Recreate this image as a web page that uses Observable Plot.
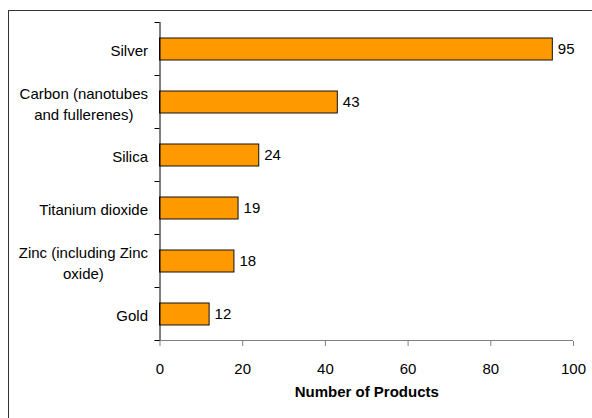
<!DOCTYPE html>
<html>
<head>
<meta charset="utf-8">
<script src="https://cdn.jsdelivr.net/npm/d3@7"></script>
<script src="https://cdn.jsdelivr.net/npm/@observablehq/plot@0.6"></script>
<style>
  html, body { margin: 0; padding: 0; background: #fff; overflow: hidden; }
  #wrap { position: relative; width: 592px; height: 418px; }
  #border { position: absolute; left: 7.5px; top: 9.5px; width: 700px; height: 600px; border: 1px solid #333; pointer-events: none; }
</style>
</head>
<body>
<div id="wrap"><div id="border"></div></div>
<script>
const categories = ["Silver", "Carbon (nanotubes\nand fullerenes)", "Silica", "Titanium dioxide", "Zinc (including Zinc\noxide)", "Gold"];
const values = [95, 43, 24, 19, 18, 12];
const xTicks = [0, 20, 40, 60, 80, 100];
const xLabel = "Number of Products";

const data = categories.map((c, i) => ({name: c, value: values[i]}));

function edgeTicks(index, scales) {
  const x = scales.x, y = scales.y;
  const ys = scales.scales && scales.scales.y;
  const bw = typeof y.bandwidth === "function" ? y.bandwidth() : ys.bandwidth;
  const step = typeof y.step === "function" ? y.step() : ys.step;
  const ns = "http://www.w3.org/2000/svg";
  const g = document.createElementNS(ns, "g");
  const x0 = x(xTicks[0]), x1 = x(xTicks[xTicks.length - 1]);
  const edges = categories.map(c => y(c) + bw / 2 - step / 2);
  edges.push(y(categories[categories.length - 1]) + bw / 2 + step / 2);
  const bottom = edges[edges.length - 1];
  const base = document.createElementNS(ns, "line");
  base.setAttribute("x1", x0 - 5); base.setAttribute("x2", x1);
  base.setAttribute("y1", bottom); base.setAttribute("y2", bottom);
  base.setAttribute("stroke", "#808080");
  g.appendChild(base);
  for (const e of edges) {
    const l = document.createElementNS(ns, "line");
    l.setAttribute("x1", x0 - 5); l.setAttribute("x2", x0);
    l.setAttribute("y1", e); l.setAttribute("y2", e);
    l.setAttribute("stroke", "#000");
    g.appendChild(l);
  }
  return g;
}

const chart = Plot.plot({
  width: 592,
  height: 418,
  marginLeft: 159.5,
  marginRight: 19,
  marginTop: 22,
  marginBottom: 77,
  style: {fontFamily: "'Liberation Sans', Arial, sans-serif", fontSize: "15px", color: "#000", background: "transparent"},
  x: {domain: [0, 100]},
  y: {domain: categories, paddingInner: 0.59, paddingOuter: 0.295},
  marks: [
    Plot.barX(data, {x: "value", y: "name", fill: "#FF9900", stroke: "#111", strokeWidth: 1}),
    Plot.text(data, {x: "value", y: "name", text: d => String(d.value), dx: 5, textAnchor: "start", fill: "#000"}),
    Plot.ruleX([0], {stroke: "#000"}),
    edgeTicks,
    Plot.axisX({ticks: xTicks, tickSize: 5, tickPadding: 17, label: null, stroke: "#808080", fill: "#000", tickFormat: d => String(d)}),
    Plot.axisY({tickSize: 0, tickPadding: 12, label: null, lineHeight: 1.4, fill: "#000"}),
    Plot.text([xLabel], {frameAnchor: "bottom", dy: 55, text: d => d, fontWeight: "bold", fill: "#000"})
  ]
});
document.getElementById("wrap").prepend(chart);

// centre the lines of multi-line category labels within their right-aligned block
chart.querySelectorAll("text").forEach(t => {
  const spans = t.querySelectorAll("tspan");
  if (spans.length < 2) return;
  const widths = Array.from(spans, s => s.getComputedTextLength());
  const maxW = Math.max(...widths);
  spans.forEach((s, i) => {
    const shift = (maxW - widths[i]) / 2;
    if (shift > 0) s.setAttribute("x", String((+s.getAttribute("x") || 0) - shift));
  });
});
</script>
</body>
</html>
